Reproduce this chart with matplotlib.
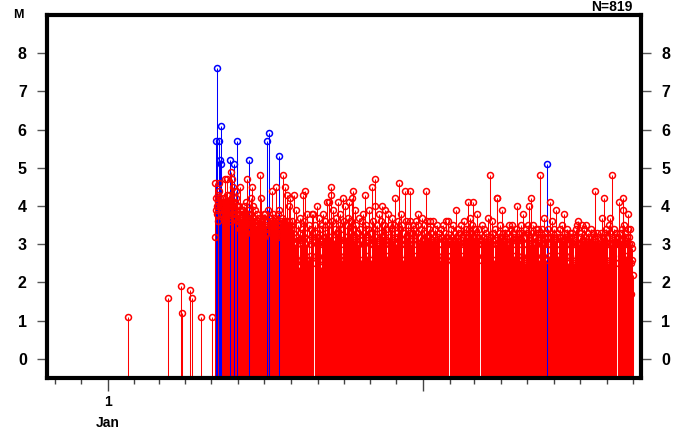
import matplotlib
matplotlib.use("Agg")
import matplotlib.pyplot as plt
import numpy as np

# ---------------- data (days since 1 Jan, magnitude) ----------------
early_day = [23.5, 69.7, 84.4, 86.3, 95.2, 97.9, 107.6, 120.6]
early_mag = [1.1, 1.6, 1.9, 1.2, 1.8, 1.6, 1.1, 1.1]

main_day = [123.9, 124.1, 124.8, 125.2, 125.6, 126.0, 126.4, 126.8, 127.1, 127.5, 127.9, 128.3,
            128.7, 129.1, 129.5, 129.9, 130.3, 130.7, 131.1, 131.3]
main_mag = [3.2, 4.6, 5.7, 3.9, 4.2, 4.0, 3.8, 7.6, 4.3, 4.1, 3.6, 5.7,
            4.4, 4.6, 5.2, 4.0, 4.2, 3.8, 6.1, 5.1]

c1_day = [131.6, 132.0, 132.3, 132.7, 133.0, 133.4, 133.7, 134.1, 134.4, 134.8, 135.1, 135.5,
          135.9, 136.3, 136.6, 137.0, 137.4, 137.7, 138.1, 138.5, 138.9, 139.2, 139.6, 140.0,
          140.4, 140.8, 141.1, 141.5, 141.9, 142.3, 142.8, 143.2, 143.6, 144.0, 144.4, 144.8,
          145.3, 145.7, 146.1, 146.4, 146.6, 147.0, 147.5, 147.9, 148.4, 148.8, 149.3, 149.8, 149.9]
c1_mag = [4.1, 3.9, 4.1, 4.0, 3.8, 4.1, 4.1, 3.9, 4.2, 3.7, 4.0, 4.1,
          4.7, 3.9, 4.1, 4.0, 4.1, 3.8, 4.3, 4.7, 4.1, 3.9, 4.0, 4.1,
          3.7, 4.3, 4.0, 5.2, 3.6, 4.0, 4.9, 4.1, 3.8, 4.7, 4.0, 4.1,
          4.5, 3.9, 4.0, 5.1, 3.8, 4.1, 3.7, 4.4, 4.2, 3.9, 4.0, 3.6, 5.7]

c2_day = [150.3, 150.8, 151.5, 152.0, 152.5, 153.0, 153.5, 154.0, 154.6, 155.1, 155.6, 156.2,
          156.8, 157.3, 157.7, 158.3, 158.9, 159.5, 160.0, 160.4, 160.8, 161.4, 162.0, 162.6,
          163.1, 163.5, 164.1, 164.7, 165.3, 165.8, 166.2, 166.8, 167.3, 167.6, 168.2, 168.8,
          169.4, 170.0, 170.6, 171.2, 171.8, 172.4, 173.0, 173.6, 174.2, 174.8, 175.4, 176.0,
          176.7, 177.2, 177.7, 178.3, 178.9, 179.5, 180.1, 180.7, 181.3, 182.0, 182.6, 183.2,
          183.9, 184.5, 185.1, 185.8, 186.6, 187.2, 187.8, 188.4, 189.0, 189.7, 190.3, 190.9,
          191.5, 192.1, 192.7, 193.3, 193.8, 194.3, 194.9, 195.5, 196.1, 196.7, 197.3, 197.8,
          198.3, 198.9, 199.5, 200.1, 200.7, 201.3, 201.9, 202.4, 203.0, 203.6, 204.2, 204.8,
          205.4, 206.0, 206.6, 207.2, 207.7, 208.3, 208.9, 209.3, 209.9, 210.5, 210.9, 211.5,
          212.1, 212.7]
c2_mag = [3.8, 3.5, 4.0, 3.6, 4.5, 3.4, 3.9, 3.7, 3.3, 3.8, 3.5, 3.9,
          3.4, 3.6, 4.0, 3.5, 3.8, 3.3, 3.7, 4.1, 4.7, 3.6, 3.9, 3.4,
          3.7, 5.2, 3.5, 3.8, 3.3, 3.6, 4.2, 4.5, 3.5, 4.0, 3.4, 3.7,
          3.2, 3.6, 3.9, 3.3, 3.5, 3.8, 3.2, 3.6, 3.4, 3.7, 3.1, 3.5,
          4.8, 3.4, 4.2, 3.6, 3.3, 3.7, 3.4, 3.8, 3.2, 3.8, 3.5, 3.3,
          5.7, 3.6, 3.4, 3.9, 5.9, 3.5, 3.7, 3.3, 3.6, 4.4, 3.4, 3.8,
          3.2, 3.6, 3.4, 3.7, 3.5, 4.5, 3.3, 3.6, 3.4, 3.8, 3.2, 5.3,
          3.9, 3.5, 3.3, 3.6, 3.4, 3.7, 3.2, 4.8, 3.5, 3.3, 3.6, 3.4,
          4.5, 3.3, 3.6, 3.4, 4.3, 3.5, 3.2, 4.0, 3.6, 3.3, 4.2, 3.5,
          3.4, 3.6]

d_day = [
    213.3, 214.0, 214.8, 215.8, 216.5, 217.2, 217.8, 218.5, 219.2, 219.8, 220.5, 221.2, 221.9,
    222.4, 223.1, 223.8, 224.5, 225.0, 225.6, 226.3, 227.0, 227.6, 228.2, 228.9, 229.6, 230.4, 231.1, 231.8, 232.5, 233.2, 233.9,
    234.6, 235.3, 236.1, 236.8, 237.4, 237.9, 239.3, 240.0, 240.7, 241.4, 242.1, 242.8, 243.5, 244.0, 244.7, 245.4,
    246.1, 246.8, 247.5, 248.2, 249.0, 249.7, 250.4, 251.1, 251.8, 252.5, 253.1, 253.8, 254.5, 255.2, 255.8, 256.4,
    257.1, 257.9, 258.3, 259.0, 259.7, 260.4, 261.1, 261.8, 262.5, 263.2, 263.9, 264.6, 265.3, 266.0, 266.7, 267.4, 268.1, 268.8,
    269.5, 270.2, 270.9, 271.8, 272.5, 273.2, 273.9, 274.6, 275.2, 276.4, 277.1, 277.8, 278.5, 279.1, 279.5, 280.2,
    280.9, 281.5, 282.2, 282.9, 283.5, 284.1, 284.8, 285.5, 286.2, 286.9, 287.6, 288.3, 288.9, 290.1, 290.8, 291.5,
    292.2, 292.9, 293.6, 294.3, 295.0, 295.7, 296.4, 297.1, 297.9, 298.6, 299.3, 300.0, 300.6, 301.5, 302.2, 302.9,
    303.6, 304.3, 305.3, 306.0, 306.7, 307.4, 308.1, 308.7, 309.3, 310.0, 310.7, 312.0, 312.7, 313.4, 314.1, 314.8,
    315.5, 316.2, 316.9, 317.6, 318.3, 319.0, 319.7, 320.4, 321.1, 321.8, 322.5, 323.2, 323.9, 325.2, 325.9, 326.6,
    327.3, 328.0, 328.7, 329.4, 330.1, 330.8, 331.5, 332.2, 332.9, 333.6, 334.3, 335.0, 335.7, 336.5, 337.2, 337.9,
    339.5, 340.2, 340.9, 341.6, 342.3, 343.0, 343.7, 344.4, 345.1, 345.8, 346.3, 347.4, 348.1, 348.8, 349.5, 350.2,
    350.9, 351.6, 352.3, 353.0, 353.7, 354.3, 355.6, 356.3, 357.0, 357.7, 358.4, 359.1, 359.5, 360.2, 360.9,
    361.6, 362.3, 363.0, 363.7, 364.4, 365.1, 365.8, 366.5, 367.2, 367.9, 368.6, 369.1, 369.8, 370.5, 371.2, 371.9, 372.6,
    373.3, 374.0, 374.7, 375.4, 376.1, 376.8, 377.5, 378.2, 378.9, 379.6, 380.3, 381.0, 381.7, 382.4, 383.1, 383.8,
    384.5, 385.2, 385.9, 386.6, 387.3, 388.0, 388.7, 389.4, 390.1, 390.8, 391.5, 392.2, 392.9, 393.6, 394.2, 395.5,
    396.2, 396.9, 397.6, 398.3, 399.0, 399.7, 400.4, 401.1, 401.8, 402.4, 402.9, 404.3, 405.0, 405.7, 406.4, 407.1, 407.8,
    408.5, 409.2, 409.9, 410.6, 411.3, 412.0, 412.7, 413.4, 414.1, 414.8, 415.5, 416.2, 416.6, 417.3, 418.0, 418.6,
    419.3, 420.0, 420.7, 421.4, 422.4, 423.1, 423.8, 424.5, 425.2, 425.9, 426.6, 427.0, 427.7, 428.4, 429.1, 429.8,
    431.3, 432.0, 432.6, 433.3, 433.9, 435.1, 435.8, 436.5, 437.2, 437.9, 438.6, 439.3, 440.2, 440.9, 441.7, 442.3,
    443.7, 444.3, 445.0, 445.7, 446.4, 447.8, 448.5, 449.2, 449.8, 450.5, 450.9, 451.6, 452.3, 453.0, 453.7,
    454.4, 455.1, 456.0, 456.7, 457.4, 458.1, 458.8, 459.6, 460.3, 461.0, 461.7, 462.4, 463.1, 463.8, 464.5,
    465.2, 465.9, 466.6, 467.3, 468.0, 468.7, 469.4, 470.1, 470.6, 471.7, 472.4, 473.1, 473.8, 474.4, 475.6, 476.3,
    477.0, 477.7, 478.4, 479.1, 479.8, 480.5, 481.2, 481.9, 482.6, 483.3, 484.0, 484.7, 485.4, 486.1, 486.8, 487.5, 487.8,
    488.5, 489.2, 489.8, 491.0, 491.7, 492.4, 493.1, 493.8, 494.5, 495.2, 495.9, 496.4, 497.5, 498.2, 498.9, 499.6, 500.0,
    500.7, 501.4, 502.1, 502.8, 503.5, 504.2, 505.0, 505.7, 506.4, 507.1, 507.8, 508.5, 509.2, 509.9, 510.6, 511.3, 511.5,
    512.2, 512.9, 513.4, 514.1, 514.8, 515.5, 516.2, 516.9, 517.6, 518.5, 519.2, 519.9, 520.6, 521.8, 522.5,
    523.2, 523.9, 524.6, 525.6, 527.0, 527.5, 528.2, 528.9, 529.6, 530.3, 531.0, 531.7, 532.4, 533.1, 533.8, 534.2,
    535.3, 536.0, 536.7, 537.4, 538.1, 538.8, 539.5, 540.2, 540.9, 541.8, 542.5, 543.0, 543.7, 544.4, 545.1, 545.8,
    546.5, 547.2, 547.9, 548.5, 549.6, 550.3, 551.0, 551.7, 552.4, 553.1, 553.8, 554.5, 555.2, 556.5, 557.2,
    557.9, 558.6, 559.3, 560.0, 560.7, 561.4, 562.1, 562.8, 563.5, 564.2, 565.4, 566.3, 567.0, 567.7, 568.4, 569.1,
    569.8, 570.5, 571.5, 572.2, 572.9, 573.8, 574.5, 575.2, 575.9, 576.6, 577.3, 578.0, 578.7, 579.4, 580.1, 580.8,
    581.6, 582.3, 583.0, 583.6, 584.3, 585.0, 585.7, 586.4, 587.1, 587.8, 588.5, 590.0, 590.7, 591.4, 592.1, 592.8, 593.2,
    594.3, 595.0, 595.7, 596.2, 596.5, 597.4, 598.1, 598.8, 599.5, 600.2, 600.9, 601.6, 602.0, 602.7, 603.4, 604.3,
    605.0, 605.2, 605.9, 606.5, 606.9, 607.6]
d_mag = [
    3.1, 2.7, 3.4, 4.3, 3.0, 2.5, 3.9, 3.2, 2.6, 3.5, 3.1, 2.4, 3.3,
    3.7, 3.0, 2.6, 3.4, 3.1, 4.3, 2.7, 3.6, 3.2, 4.4, 3.0, 2.5, 3.8, 3.3, 2.6, 3.5, 3.1, 2.7,
    3.4, 3.0, 3.8, 3.2, 2.5, 3.8, 3.1, 3.5, 2.7, 3.3, 4.0, 3.0, 3.2, 3.7, 2.6, 3.4,
    3.1, 2.4, 3.5, 3.0, 3.8, 3.2, 2.7, 3.6, 3.0, 3.3, 2.5, 4.1, 3.1, 3.5, 2.6, 4.1,
    3.2, 4.5, 4.3, 3.0, 3.6, 2.7, 3.9, 3.1, 3.4, 2.5, 3.7, 3.0, 3.3, 4.1, 2.6, 3.5, 3.1, 3.8,
    3.0, 3.4, 2.6, 4.2, 3.1, 3.6, 2.7, 4.0, 3.2, 3.0, 3.5, 2.5, 3.7, 3.1, 4.1, 3.3,
    2.7, 3.6, 4.2, 3.0, 3.4, 4.4, 3.1, 2.4, 3.9, 3.2, 3.5, 2.6, 3.3, 3.0, 3.7, 3.1,
    3.4, 2.6, 3.6, 3.1, 3.8, 3.0, 3.3, 2.5, 4.3, 3.2, 3.5, 2.7, 3.4, 3.1, 3.9, 3.0,
    3.3, 2.6, 4.5, 3.1, 3.6, 3.0, 3.4, 4.0, 4.7, 3.2, 2.7, 3.5, 3.0, 3.8, 3.1, 3.3,
    2.6, 3.6, 3.1, 4.0, 3.2, 2.5, 3.5, 3.0, 3.9, 3.1, 3.4, 2.7, 3.8, 3.2, 3.0, 3.5,
    2.6, 3.4, 3.0, 3.7, 3.1, 2.5, 3.5, 3.2, 4.2, 3.0, 3.3, 2.7, 3.6, 4.6, 3.1, 3.4,
    3.8, 3.0, 3.5, 2.6, 3.3, 3.1, 4.4, 3.0, 3.6, 2.7, 3.2, 3.5, 3.0, 3.3, 4.4, 3.6,
    3.0, 3.3, 2.5, 3.5, 3.1, 3.4, 2.7, 3.6, 3.0, 3.3, 2.6, 3.5, 3.8, 3.0, 3.2,
    2.5, 3.4, 3.0, 3.7, 3.1, 2.7, 3.5, 3.0, 3.3, 2.6, 4.4, 3.6, 3.0, 3.2, 2.7, 3.4, 3.6,
    3.0, 3.3, 2.5, 3.1, 3.6, 2.7, 3.2, 3.0, 3.4, 2.6, 3.1, 3.5, 2.7, 3.2, 3.0, 3.3,
    2.6, 3.4, 3.0, 3.2, 2.5, 3.5, 3.1, 2.7, 3.3, 3.0, 3.6, 2.6, 3.2, 3.6, 3.0, 3.1,
    2.7, 3.4, 3.0, 3.2, 2.5, 3.5, 3.1, 2.6, 3.3, 3.0, 3.9, 3.2, 2.7, 3.4, 3.0, 3.3, 2.5,
    3.1, 3.5, 2.7, 3.2, 3.0, 3.6, 2.5, 3.3, 3.0, 3.4, 2.6, 3.2, 4.1, 3.0, 3.4, 3.7,
    3.0, 3.3, 2.6, 3.5, 4.1, 3.0, 3.2, 2.5, 3.4, 3.0, 3.3, 3.8, 2.7, 3.2, 3.0, 3.4,
    3.1, 2.6, 3.5, 3.0, 3.2, 2.7, 3.4, 3.0, 3.3, 2.5, 3.2, 3.0, 3.7, 3.1, 4.8, 3.0,
    3.2, 3.6, 3.0, 3.3, 2.6, 3.1, 3.4, 3.0, 4.2, 3.2, 4.2, 3.0, 3.3, 2.7, 3.5,
    3.0, 3.2, 3.9, 3.0, 3.3, 2.5, 3.1, 3.4, 3.0, 3.2, 2.6, 3.3, 3.0, 3.5, 2.7,
    3.2, 3.0, 3.4, 2.6, 3.5, 3.1, 3.3, 2.7, 3.2, 3.0, 3.4, 3.1, 4.0, 3.2, 3.0, 3.3,
    2.6, 3.5, 3.1, 3.3, 2.7, 3.8, 3.0, 3.2, 2.5, 3.4, 3.0, 3.3, 2.6, 3.5, 3.1, 3.2, 4.0,
    3.0, 4.2, 3.1, 3.3, 2.7, 3.5, 3.0, 3.2, 2.5, 3.4, 3.0, 3.3, 3.1, 3.4, 2.6, 3.2, 4.8,
    3.0, 3.3, 2.7, 3.4, 3.0, 3.2, 3.7, 3.0, 3.3, 2.6, 5.1, 3.2, 3.0, 3.4, 2.7, 3.2, 4.1,
    3.0, 3.3, 3.6, 2.6, 3.2, 3.0, 3.4, 2.5, 3.1, 3.9, 3.0, 3.3, 2.7, 3.2, 3.0,
    3.4, 2.6, 3.2, 3.5, 3.1, 3.8, 3.0, 3.3, 2.7, 3.2, 3.0, 3.4, 2.5, 3.2, 3.0, 3.3,
    3.0, 3.2, 2.6, 3.3, 3.0, 3.2, 2.5, 3.1, 3.0, 3.4, 3.0, 3.5, 2.7, 3.6, 3.0, 3.2,
    2.6, 3.3, 3.0, 3.5, 3.1, 2.7, 3.4, 3.0, 3.2, 2.5, 3.5, 3.0, 3.3, 2.6, 3.2,
    3.0, 3.4, 2.7, 3.2, 3.0, 3.3, 2.5, 3.1, 3.0, 4.4, 3.0, 3.3, 2.6, 3.2, 3.0, 3.1,
    2.7, 3.3, 3.7, 3.0, 3.2, 4.2, 3.0, 3.3, 2.6, 3.4, 3.0, 3.2, 2.5, 3.5, 3.0, 3.3,
    3.7, 3.0, 3.2, 4.8, 3.1, 2.7, 3.4, 3.0, 3.2, 2.5, 3.3, 3.0, 3.2, 4.1, 3.0, 3.3, 2.6,
    3.1, 3.4, 3.0, 4.2, 3.9, 3.5, 3.0, 3.3, 2.7, 3.2, 3.0, 3.4, 3.8, 3.0, 3.2, 3.4,
    2.5, 1.7, 3.0, 2.6, 2.9, 2.2]

month_start_days = [-61, -31, 0, 31, 59, 90, 120, 151, 181, 212, 243, 273, 304, 334,
                    365, 396, 424, 455, 485, 516, 546, 577, 608]
year_start_days = [0, 365]
year_labels = ["1\nJan", ""]
mag_ticks = [0, 1, 2, 3, 4, 5, 6, 7, 8]
count_label = "N=819"
big_threshold = 5.0

# ---------------- plot ----------------
days = np.array(early_day + main_day + c1_day + c2_day + d_day, dtype=float)
mags = np.array(early_mag + main_mag + c1_mag + c2_mag + d_mag, dtype=float)
big = mags >= big_threshold

W, H = 678, 432
fig = plt.figure(figsize=(W / 100, H / 100), dpi=100)
ax = fig.add_axes([47 / W, 1 - 378 / H, (641 - 47) / W, (378 - 15) / H])

ymin, ymax = -0.5, 9.0
ax.set_xlim(-70.2, 616.9)
ax.set_ylim(ymin, ymax)

for sel, col in ((~big, "red"), (big, "blue")):
    ax.vlines(days[sel], ymin, mags[sel], colors=col, alpha=1.0, linewidth=0.75, zorder=2)
    ax.plot(days[sel], mags[sel], "o", ms=4.3, mfc="none", mec=col, mew=1.1,
            zorder=3, clip_on=False)

font = "Liberation Sans"
for s in ax.spines.values():
    s.set_linewidth(3.0)
    s.set_capstyle("projecting")
    s.set_zorder(5)

ax.set_yticks(mag_ticks)
ax.set_yticklabels([str(v) for v in mag_ticks], fontfamily=font, fontweight="bold", fontsize=11.5)
ax.tick_params(axis="y", which="major", left=True, right=True, labelleft=True, labelright=True,
               direction="out", length=7.5, width=1.0, color="#555555", pad=7)

ax.set_xticks(year_start_days)
ax.set_xticklabels(year_labels, fontfamily=font, fontweight="bold", fontsize=10, linespacing=1.7)
ax.set_xticks(month_start_days, minor=True)
ax.tick_params(axis="x", which="major", direction="out", length=9, width=1.0, color="#444444", pad=3)
ax.tick_params(axis="x", which="minor", direction="out", length=4.5, width=1.0, color="#444444")

fig.text(18 / W, 1 - 15 / H, "M", fontfamily=font, fontweight="bold", fontsize=9,
         ha="center", va="center")
fig.text(612 / W, 1 - 7 / H, count_label, fontfamily=font, fontweight="bold", fontsize=10,
         ha="center", va="center")

fig.savefig("out.png", dpi=100)
